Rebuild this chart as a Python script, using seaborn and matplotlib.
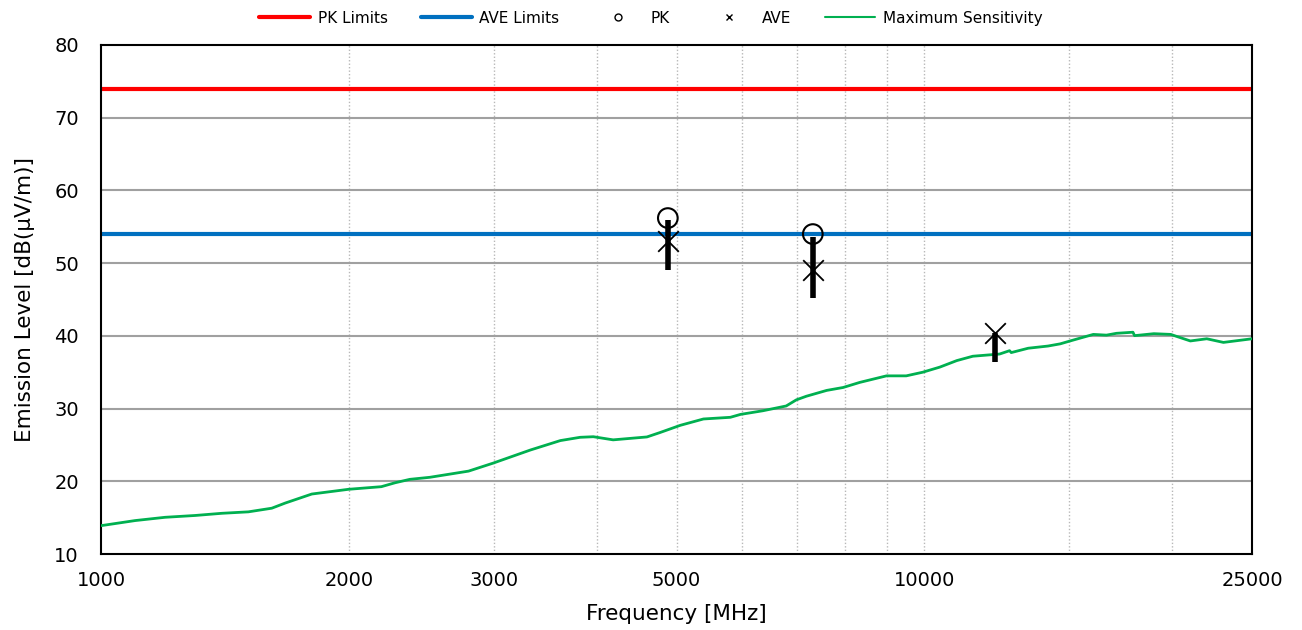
import numpy as np
import pandas as pd
import matplotlib
matplotlib.use("Agg")
import matplotlib.pyplot as plt
import seaborn as sns
from matplotlib.ticker import FixedLocator, NullFormatter
from matplotlib.lines import Line2D

# Limites (dBuV/m)
pk_limit = 74
ave_limit = 54

# Medições (MHz, dBuV/m)
meas_freq = [4880, 7320, 12200]
pk_level = [56.2, 54.0, np.nan]
ave_level = [53.0, 49.0, 40.4]
bar_top = [56.0, 53.6, 40.4]
bar_bottom = [49.1, 45.2, 36.4]

# Curva de sensibilidade máxima
sens_freq = [1000, 1100, 1196, 1301, 1402, 1510, 1612, 1673, 1803, 1998, 2190, 2276,
             2372, 2508, 2795, 2994, 3322, 3613, 3818, 3962, 4188, 4603, 4773, 5054,
             5391, 5812, 5980, 6365, 6795, 6990, 7190, 7610, 7967, 8347, 8995, 9505,
             9954, 10440, 10950, 11452, 12340, 12690, 12750, 13370, 14130, 14620,
             15140, 16040, 16640, 17110, 17920, 18000, 19000, 19920, 20280, 21040,
             22030, 23080, 25000]
sens_level = [13.9, 14.6, 15.05, 15.3, 15.6, 15.8, 16.3, 17.0, 18.25, 18.9, 19.26, 19.8,
              20.27, 20.55, 21.4, 22.5, 24.3, 25.6, 26.05, 26.13, 25.7, 26.1, 26.7, 27.7,
              28.57, 28.8, 29.2, 29.7, 30.36, 31.2, 31.7, 32.5, 32.9, 33.6, 34.5, 34.5,
              35.0, 35.7, 36.6, 37.2, 37.5, 37.96, 37.7, 38.3, 38.6, 38.9,
              39.4, 40.2, 40.1, 40.35, 40.5, 40.03, 40.3, 40.2, 39.9, 39.3,
              39.6, 39.1, 39.6]

xtick_vals = [1000, 2000, 3000, 5000, 10000, 25000]
grid_vals = [2000, 3000, 4000, 5000, 6000, 7000, 8000, 9000, 10000, 15000, 20000]

sns.set_style("white")
plt.rcParams["font.family"] = ["DejaVu Sans"]
plt.rcParams["text.color"] = "black"
plt.rcParams["axes.labelcolor"] = "black"
plt.rcParams["xtick.color"] = "black"
plt.rcParams["ytick.color"] = "black"

df_sens = pd.DataFrame({"freq": sens_freq, "level": sens_level})
df_meas = pd.DataFrame({"freq": meas_freq, "pk": pk_level, "ave": ave_level})

fig = plt.figure(figsize=(13.02, 6.3), dpi=100)
ax = fig.add_axes([0.0776, 0.1206, 0.8840, 0.8080])
ax.set_xscale("log")

# grade
for g in grid_vals:
    ax.axvline(g, color="#b8b8b8", lw=1.0, ls=(0, (1, 1.5)), zorder=0)
for yv in range(20, 80, 10):
    ax.axhline(yv, color="#a0a0a0", lw=1.5, zorder=0)

ax.axhline(pk_limit, color="#ff0000", lw=3, zorder=2)
ax.axhline(ave_limit, color="#0070c0", lw=3, zorder=2)

sns.lineplot(data=df_sens, x="freq", y="level", color="#00b050", lw=2, ax=ax, zorder=3)

ax.vlines(meas_freq, bar_bottom, bar_top, color="black", lw=4, zorder=4)
sns.scatterplot(data=df_meas, x="freq", y="pk", marker="o", s=200, facecolor="none",
                edgecolor="black", linewidth=1.5, ax=ax, zorder=5)
sns.scatterplot(data=df_meas, x="freq", y="ave", marker="x", s=220, color="black",
                linewidth=1.3, ax=ax, zorder=5)

ax.set_xlim(1000, 25000)
ax.set_ylim(10, 80)
ax.xaxis.set_major_locator(FixedLocator(xtick_vals))
ax.xaxis.set_minor_locator(FixedLocator([]))
ax.xaxis.set_minor_formatter(NullFormatter())
ax.set_xticklabels([str(v) for v in xtick_vals])
ax.set_yticks(range(10, 90, 10))
ax.tick_params(axis="x", labelsize=14, length=0, pad=12)
ax.tick_params(axis="y", labelsize=14, length=0, pad=16)
ax.set_xlabel("Frequency [MHz]", fontsize=15.5, labelpad=10)
ax.set_ylabel("Emission Level [dB(μV/m)]", fontsize=15.5, labelpad=14)
for s in ax.spines.values():
    s.set_color("black")
    s.set_linewidth(1.5)

handles = [
    Line2D([], [], color="#ff0000", lw=3),
    Line2D([], [], color="#0070c0", lw=3),
    Line2D([], [], color="black", marker="o", ls="none", mfc="none", ms=5),
    Line2D([], [], color="black", marker="x", ls="none", ms=5),
    Line2D([], [], color="#00b050", lw=1.5),
]
labels = ["PK Limits", "AVE Limits", "PK", "AVE", "Maximum Sensitivity"]
fig.legend(handles, labels, loc="upper center", bbox_to_anchor=(0.5, 1.005), ncol=5,
           frameon=False, fontsize=11, handlelength=3.3, handletextpad=0.5,
           columnspacing=2.2)

fig.savefig("out.png", dpi=100)
